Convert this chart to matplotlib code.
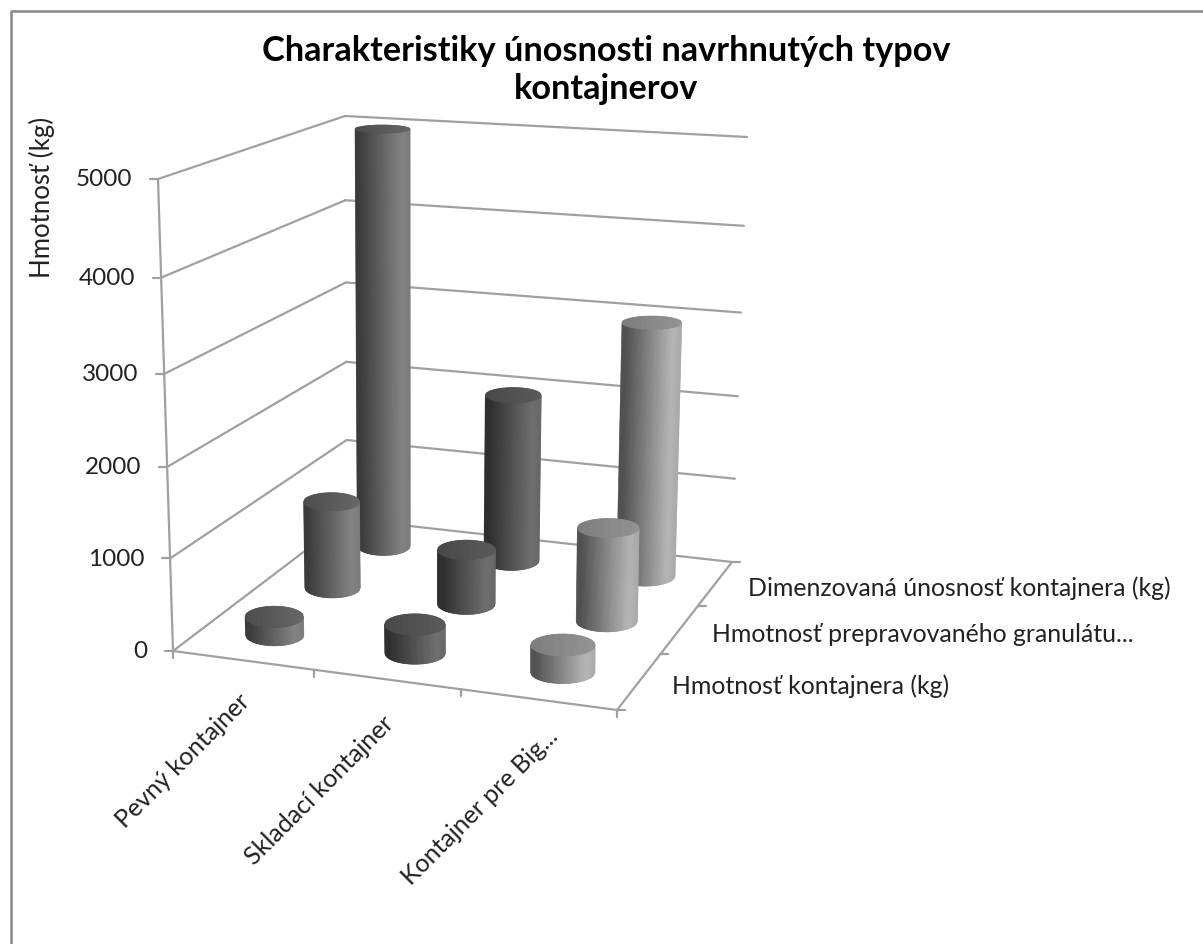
import numpy as np
import matplotlib
matplotlib.use("Agg")
import matplotlib.pyplot as plt
from matplotlib.collections import PolyCollection
from matplotlib.colors import to_rgb

W, H = 1203, 944
TITLE = "Charakteristiky únosnosti navrhnutých typov\nkontajnerov"
Y_LABEL = "Hmotnosť (kg)"
categories = ["Pevný kontajner", "Skladací kontajner", "Kontajner pre Big..."]
series_names = ["Hmotnosť kontajnera (kg)", "Hmotnosť prepravovaného granulátu...",
                "Dimenzovaná únosnosť kontajnera (kg)"]
container_mass = [200, 310, 290]
granulate_mass = [1000, 620, 1050]
rated_capacity = [5000, 2000, 3000]
value_ticks = [0, 1000, 2000, 3000, 4000, 5000]

shades = [("#3b3b3b", "#828282", "#4c4c4c", "#666666"),
          ("#2d2d2d", "#6e6e6e", "#474747", "#5a5a5a"),
          ("#505050", "#b4b4b4", "#7c7c7c", "#939393")]
GRID = "#a0a0a0"
FONT = ["Lato", "DejaVu Sans"]

# 3D axes box: pixel corners, indexed by (category end, series end, value end)
box = {(0, 0, 0): (173, 651), (1, 0, 0): (617, 710), (1, 1, 0): (732, 562), (0, 1, 0): (347, 519),
       (0, 0, 1): (158, 179), (1, 0, 1): (621, 215), (1, 1, 1): (747, 137), (0, 1, 1): (345, 116)}
# foreshortening of the axes
u_frac = [0, 0.318, 0.649, 1]
v_frac = [0, 0.378, 0.703, 1]
z_frac = [0, 0.196, 0.39, 0.587, 0.791, 1]


def proj(u, v, z):
    a = np.interp(u, [0, 1, 2, 3], u_frac)
    b = np.interp(v, [0, 1, 2, 3], v_frac)
    c = np.interp(z, value_ticks, z_frac)
    p = np.zeros(2)
    for (i, j, k), xy in box.items():
        p += np.array(xy) * (a if i else 1 - a) * (b if j else 1 - b) * (c if k else 1 - c)
    return p


fig = plt.figure(figsize=(W/100, H/100), dpi=100)
ax = fig.add_axes([0, 0, 1, 1])
ax.set_xlim(0, W)
ax.set_ylim(H, 0)
ax.axis("off")
ax.plot([10.5, 10.5, 1210], [950, 11, 11], color="#8c8c8c", lw=1.9, zorder=1)


def seg(p, q, lw=1.6):
    ax.plot([p[0], q[0]], [p[1], q[1]], color=GRID, lw=lw, solid_capstyle="round", zorder=2)


for val in value_ticks:
    seg(proj(0, 0, val), proj(0, 3, val))
    seg(proj(0, 3, val), proj(3, 3, val))
    p = proj(0, 0, val)
    seg(p, p + np.array([-8, 0]))
    ax.text(p[0] - 26, p[1] + 1, str(val), ha="right", va="center", fontsize=17.5,
            color="#222222", family=FONT)
seg(proj(0, 0, 0), proj(0, 0, 5000))
seg(proj(0, 0, 0), proj(3, 0, 0))
seg(proj(3, 0, 0), proj(3, 3, 0))
for i in range(4):
    p = proj(i, 0, 0)
    seg(p, p + np.array([0, 7]))
    p = proj(3, i, 0)
    seg(p, p + np.array([8, 0]))


def ell_h(y):
    return 8 + 0.027 * (y - 129)


def cylinder(cat, ser, value, z):
    uc, vc = cat + 0.5, ser + 0.5
    r = 0.21
    dark, light, t1, t2 = [np.array(to_rgb(c)) for c in shades[cat]]
    pb, pt = proj(uc, vc, 0), proj(uc, vc, value)
    wb = np.linalg.norm(proj(uc + r, vc, 0) - proj(uc - r, vc, 0))
    wt = np.linalg.norm(proj(uc + r, vc, value) - proj(uc - r, vc, value))
    hb, ht = ell_h(pb[1]), ell_h(pt[1])
    n = 70
    ts = np.linspace(0, 1, n + 1)
    xs = 2 * ts - 1
    arc = np.sqrt(np.clip(1 - xs**2, 0, 1))
    xb, xt = pb[0] + wb/2*xs, pt[0] + wt/2*xs
    yb, yt = pb[1] + hb/2*arc, pt[1] + ht/2*arc
    yt0 = pt[1] - ht/2*arc
    body, bcol, top, tcol = [], [], [], []
    for i in range(n):
        tm = (ts[i] + ts[i+1]) / 2
        f = np.clip((tm - 0.08) / 0.77, 0, 1)
        if tm > 0.88:
            f = 1 - (tm - 0.88) * 0.9
        c = dark + (light - dark) * f
        body.append([(xb[i], yb[i]), (xb[i+1], yb[i+1]), (xt[i+1], yt[i+1]), (xt[i], yt[i])])
        bcol.append(c)
        top.append([(xt[i], yt0[i]), (xt[i+1], yt0[i+1]), (xt[i+1], yt[i+1]), (xt[i], yt[i])])
        tcol.append(t1 + (t2 - t1) * tm)
    ax.add_collection(PolyCollection(body, facecolors=bcol, edgecolors=bcol, linewidths=0.5, zorder=z))
    ax.add_collection(PolyCollection(top, facecolors=tcol, edgecolors=tcol, linewidths=0.5, zorder=z + 0.1))


rows = [container_mass, granulate_mass, rated_capacity]
for ser in (2, 1, 0):
    for cat in range(3):
        cylinder(cat, ser, rows[ser][cat], 5 + (2 - ser) * 3 + cat * 0.5)

cat_dx, cat_dy = [-6, -6, 7], [29, 32, 25]
for i, name in enumerate(categories):
    p = proj(i + 0.5, 0, 0)
    ax.text(p[0] + cat_dx[i], p[1] + cat_dy[i], name, rotation=45, ha="right", va="top",
            rotation_mode="anchor", fontsize=18, color="#222222", family=FONT)
for i, name in enumerate(series_names):
    p = proj(3, i + 0.5, 0)
    ax.text(p[0] + 33, p[1] + 4, name, ha="left", va="center", fontsize=17.9,
            color="#222222", family=FONT)

ax.text(42, 197, Y_LABEL, rotation=90, ha="center", va="center", fontsize=18.5,
        color="#222222", family=FONT)
ax.text(606, 70, TITLE, ha="center", va="center", fontsize=24.7, fontweight="bold",
        color="#000000", family=FONT, linespacing=1.2)

fig.savefig("out.png", dpi=100)
